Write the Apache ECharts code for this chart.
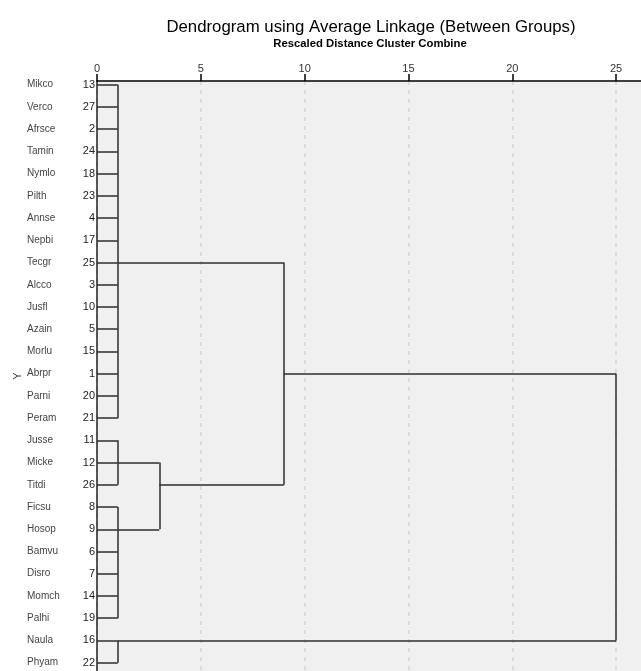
<!DOCTYPE html>
<html>
<head>
<meta charset="utf-8">
<script src="https://cdn.jsdelivr.net/npm/echarts@6/dist/echarts.min.js"></script>
<style>
  html, body { margin: 0; padding: 0; background: #ffffff; }
  #chart { width: 641px; height: 671px; }
</style>
</head>
<body>
<div id="chart"></div>
<script>
// Leaves in dendrogram order (top to bottom) with their case numbers
const leafNames = ['Mikco','Verco','Afrsce','Tamin','Nymlo','Pilth','Annse','Nepbi','Tecgr','Alcco','Jusfl','Azain','Morlu','Abrpr','Parni','Peram','Jusse','Micke','Titdi','Ficsu','Hosop','Bamvu','Disro','Momch','Palhi','Naula','Phyam'];
const caseNumbers = [13,27,2,24,18,23,4,17,25,3,10,5,15,1,20,21,11,12,26,8,9,6,7,14,19,16,22];

// Cluster merges: name, rescaled distance, row where the merged branch leaves, children
// (numbers are leaf positions, strings are earlier clusters)
const clusterNames = ['A','B','C','D','BC','ABC','All'];
const clusterHeights = [1, 1, 1, 1, 3, 9, 25];
const clusterRows = [8, 17, 20, 25, 18, 13, 19];
const clusterChildren = [
  [0,1,2,3,4,5,6,7,8,9,10,11,12,13,14,15],
  [16,17,18],
  [19,20,21,22,23,24],
  [25,26],
  ['B','C'],
  ['A','BC'],
  ['ABC','D']
];

// Rescaled distance axis ticks
const distanceTicks = [0, 5, 10, 15, 20, 25];

// Build the branch segments through the axis coordinates
const segments = [];
clusterNames.forEach(function (name, i) {
  const h = clusterHeights[i];
  const rows = [];
  clusterChildren[i].forEach(function (c) {
    let ch, cr;
    if (typeof c === 'number') { ch = 0; cr = c; }
    else { const k = clusterNames.indexOf(c); ch = clusterHeights[k]; cr = clusterRows[k]; }
    rows.push(cr);
    segments.push({ coords: [[ch, cr], [h, cr]] });
  });
  const lo = Math.min.apply(null, rows), hi = Math.max.apply(null, rows);
  segments.push({ coords: [[h, lo], [h, hi]] });
});

const font = 'Liberation Sans, Arial, sans-serif';
const chart = echarts.init(document.getElementById('chart'), null, { renderer: 'canvas' });
chart.setOption({
  animation: false,
  backgroundColor: '#ffffff',
  graphic: [
    { type: 'text', x: 371, y: 27, style: { text: 'Dendrogram using Average Linkage (Between Groups)', fontFamily: font, fontSize: 16.8, fill: '#000', textAlign: 'center', textVerticalAlign: 'middle' } },
    { type: 'text', x: 370, y: 43.5, style: { text: 'Rescaled Distance Cluster Combine', fontFamily: font, fontSize: 11.3, fontWeight: 'bold', fill: '#000', textAlign: 'center', textVerticalAlign: 'middle' } }
  ],
  grid: {
    left: 97, top: 81, right: 0, bottom: 0,
    outerBoundsMode: 'none',
    containLabel: false,
    show: true, backgroundColor: '#f0f0f0', borderWidth: 0
  },
  xAxis: {
    type: 'value', position: 'top',
    min: 0, max: 26.2, interval: 5,
    axisLine: { show: true, onZero: false, lineStyle: { color: '#000', width: 1.5 } },
    axisTick: { show: true, length: 7, customValues: distanceTicks, lineStyle: { color: '#000', width: 1.5 } },
    axisLabel: { customValues: distanceTicks, margin: 7, fontFamily: font, fontSize: 11, color: '#333' },
    splitLine: { show: true, lineStyle: { color: '#d4d4d4', width: 1.5, type: [4, 5] } }
  },
  yAxis: {
    type: 'value', inverse: true,
    min: -0.166, max: 26.375,
    name: 'Y', nameLocation: 'middle', nameGap: 74, nameMoveOverlap: false,
    nameTextStyle: { fontFamily: font, fontSize: 11, color: '#333' },
    axisLine: { show: true, onZero: false, lineStyle: { color: '#222', width: 1.5 } },
    axisTick: { show: false },
    splitLine: { show: false },
    axisLabel: {
      customValues: leafNames.map(function (_, i) { return i; }),
      margin: 2,
      formatter: function (v) {
        const i = Math.round(v);
        return '{n|' + leafNames[i] + '}{c|' + caseNumbers[i] + '}';
      },
      rich: {
        n: { width: 50, align: 'left', fontFamily: font, fontSize: 10, color: '#444' },
        c: { width: 18, align: 'right', fontFamily: font, fontSize: 11, color: '#222' }
      }
    }
  },
  series: [{
    type: 'lines',
    coordinateSystem: 'cartesian2d',
    polyline: false,
    silent: true,
    lineStyle: { color: '#2e2e2e', width: 1.5, opacity: 1 },
    data: segments
  }]
});
</script>
</body>
</html>
